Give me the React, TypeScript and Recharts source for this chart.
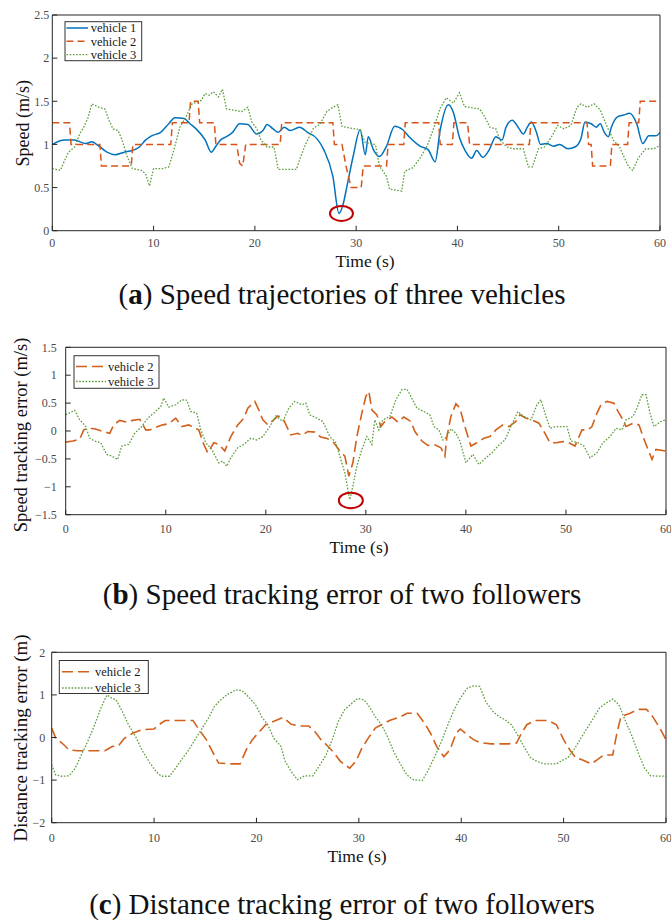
import React from 'react';
import { LineChart, Line, XAxis, YAxis, ReferenceDot } from 'recharts';

type Pt = [number, number];

const timeTicks = [0, 10, 20, 30, 40, 50, 60];
const speedTicks = [0, 0.5, 1, 1.5, 2, 2.5];
const speedErrTicks = [-1.5, -1, -0.5, 0, 0.5, 1, 1.5];
const distErrTicks = [-2, -1, 0, 1, 2];

// (a) speed of the three vehicles: [time s, speed m/s]
const speedV1: Pt[] = [
  [0, 1.0], [1.2, 1.05], [2.2, 1.05], [3.3, 1.01], [3.9, 1.03], [4.5, 0.99], [5.4, 0.91], [6.2, 0.88],
  [7.1, 0.91], [7.9, 0.93], [8.6, 0.97], [9.2, 1.05], [9.8, 1.1], [10.7, 1.14], [11.5, 1.24], [12.1, 1.31],
  [13.0, 1.3], [13.6, 1.24], [14.2, 1.18], [15.1, 1.05], [15.7, 0.91], [16.1, 0.97], [16.6, 1.05], [17.2, 1.09],
  [17.8, 1.14], [18.5, 1.24], [19.3, 1.23], [20.2, 1.12], [20.8, 1.16], [21.2, 1.23], [21.8, 1.18], [22.3, 1.14],
  [22.9, 1.2], [23.5, 1.16], [24.4, 1.2], [25.2, 1.14], [26.1, 1.07], [26.8, 0.94], [27.7, 0.63], [28.3, 0.2],
  [28.7, 0.3], [29.1, 0.52], [29.7, 0.86], [30.4, 1.17], [30.9, 0.88], [31.2, 1.09], [31.7, 0.94], [32.3, 0.86],
  [33.0, 0.98], [33.8, 1.21], [34.6, 1.17], [35.3, 1.08], [36.3, 0.98], [37.1, 0.94], [37.8, 0.8], [38.3, 1.17],
  [39.1, 1.46], [39.6, 1.37], [40.2, 1.08], [40.8, 0.92], [41.4, 0.84], [41.9, 0.93], [42.5, 0.85], [43.1, 0.93],
  [43.8, 1.09], [44.4, 1.05], [44.8, 1.2], [45.4, 1.28], [46.1, 1.18], [46.5, 1.12], [46.9, 1.2], [47.3, 1.26],
  [47.8, 1.14], [48.2, 1.0], [48.8, 1.01], [49.5, 0.98], [50.1, 1.0], [50.9, 0.95], [51.6, 0.97], [52.2, 1.07],
  [52.6, 1.26], [53.2, 1.24], [53.7, 1.2], [54.1, 1.24], [54.5, 1.14], [54.9, 1.09], [55.2, 1.2], [55.8, 1.32],
  [56.4, 1.34], [57.0, 1.36], [57.7, 1.24], [58.3, 1.01], [58.9, 1.1], [59.6, 1.1], [60, 1.14],
];
const speedV2: Pt[] = [
  [0, 1.25], [1.7, 1.25], [1.85, 1.0], [4.7, 1.0], [4.85, 0.75], [7.8, 0.75], [7.95, 1.0], [11.7, 1.0],
  [11.85, 1.25], [13.5, 1.25], [13.65, 1.5], [14.4, 1.5], [14.55, 1.25], [16.0, 1.25], [16.15, 1.0], [18.2, 1.0],
  [18.5, 0.78], [18.8, 0.75], [19.1, 1.0], [22.5, 1.0], [22.65, 1.25], [27.7, 1.25], [27.85, 1.0], [28.6, 1.0],
  [29.0, 0.75], [29.5, 0.5], [30.5, 0.5], [30.7, 0.75], [33.0, 0.75], [33.15, 1.0], [34.7, 1.0], [34.85, 1.25],
  [38.15, 1.25], [38.3, 1.0], [39.5, 1.0], [39.65, 1.25], [41.0, 1.25], [41.2, 1.0], [47.1, 1.0], [47.25, 1.25],
  [52.8, 1.25], [52.95, 1.0], [53.2, 1.0], [53.35, 0.75], [55.1, 0.75], [55.25, 1.0], [56.8, 1.0], [56.95, 1.25],
  [57.9, 1.25], [58.05, 1.5], [60, 1.5],
];
const speedV3: Pt[] = [
  [0, 0.72], [0.8, 0.7], [1.2, 0.81], [1.6, 0.91], [2.2, 0.97], [2.7, 1.12], [3.1, 1.2], [3.5, 1.3],
  [3.9, 1.47], [4.6, 1.43], [5.2, 1.41], [5.6, 1.28], [6.0, 1.18], [6.5, 1.16], [6.9, 1.05], [7.3, 0.89],
  [7.9, 0.72], [8.8, 0.7], [9.2, 0.66], [9.6, 0.52], [10.0, 0.72], [10.9, 0.72], [11.5, 0.74], [11.9, 0.89],
  [12.6, 1.2], [13.2, 1.32], [13.8, 1.47], [14.7, 1.51], [15.1, 1.59], [15.5, 1.57], [15.9, 1.61], [16.4, 1.55],
  [16.8, 1.64], [17.2, 1.41], [17.8, 1.4], [18.7, 1.38], [19.3, 1.43], [19.7, 1.26], [20.2, 1.18], [20.6, 1.05],
  [21.2, 0.97], [21.9, 0.97], [22.3, 0.71], [24.1, 0.71], [24.5, 0.85], [25.0, 1.0], [25.8, 1.19], [26.4, 1.23],
  [27.1, 1.38], [27.7, 1.43], [28.2, 1.46], [28.6, 1.21], [29.4, 1.19], [30.4, 1.17], [30.9, 1.02], [31.9, 1.0],
  [32.3, 0.75], [33.0, 0.63], [33.3, 0.48], [34.5, 0.46], [34.8, 0.69], [35.6, 0.73], [36.3, 0.84], [37.0, 0.98],
  [37.6, 1.17], [38.3, 1.42], [38.9, 1.54], [39.6, 1.48], [40.2, 1.6], [40.7, 1.44], [42.2, 1.41], [42.7, 1.32],
  [43.2, 1.2], [43.8, 1.18], [44.2, 1.05], [44.9, 0.97], [45.5, 0.95], [46.5, 0.95], [47.0, 0.74], [47.4, 0.74],
  [48.0, 0.95], [48.6, 0.97], [49.3, 1.09], [49.9, 1.22], [50.5, 1.18], [51.2, 1.22], [51.8, 1.43], [52.2, 1.47],
  [52.8, 1.43], [53.5, 1.47], [54.1, 1.4], [54.8, 1.2], [55.4, 1.05], [56.0, 0.97], [56.9, 0.74], [57.3, 0.7],
  [57.9, 0.85], [58.6, 0.95], [59.4, 0.95], [60, 0.99],
];

// (b) speed tracking error of the followers: [time s, error m/s]
const speedErrV2: Pt[] = [
  [0, -0.2], [0.7, -0.18], [1.4, -0.15], [1.8, 0.02], [2.2, 0.05], [2.9, 0.04], [3.7, -0.01], [4.4, -0.04],
  [4.8, 0.11], [5.4, 0.19], [6.1, 0.16], [6.7, 0.19], [7.4, 0.21], [8.0, 0.02], [8.4, 0.02], [9.1, 0.07],
  [9.7, 0.11], [10.3, 0.13], [11.0, 0.23], [11.6, 0.08], [12.3, 0.11], [12.9, 0.05], [13.3, 0.02], [13.8, -0.24],
  [14.2, -0.39], [14.8, -0.21], [15.3, -0.24], [15.9, -0.36], [16.5, -0.1], [17.2, 0.11], [17.8, 0.23], [18.2, 0.41],
  [18.9, 0.53], [19.3, 0.38], [19.7, 0.2], [20.2, 0.11], [20.8, 0.2], [21.2, 0.27], [21.7, 0.23], [22.1, 0.08],
  [22.5, -0.07], [23.2, -0.04], [23.6, -0.08], [24.2, -0.01], [24.9, -0.02], [25.5, -0.11], [26.2, -0.14], [26.8, -0.21],
  [27.4, -0.36], [27.9, -0.45], [28.3, -0.81], [28.7, -0.57], [29.1, -0.1], [29.6, 0.32], [30.0, 0.62], [30.3, 0.71],
  [30.6, 0.38], [31.1, 0.29], [31.5, 0.08], [31.9, 0.17], [32.6, 0.25], [33.2, 0.16], [33.8, 0.25], [34.5, 0.17],
  [34.9, -0.01], [35.6, -0.18], [36.2, -0.26], [36.8, -0.24], [37.5, -0.3], [37.9, -0.45], [38.1, -0.1], [38.5, 0.26],
  [39.0, 0.49], [39.4, 0.41], [39.8, 0.14], [40.3, -0.16], [40.5, -0.27], [41.1, -0.21], [41.8, -0.13], [42.4, -0.1],
  [43.0, 0.02], [43.7, 0.11], [44.3, 0.08], [45.0, 0.17], [45.4, 0.29], [46.0, 0.23], [46.6, 0.2], [47.3, 0.14],
  [47.9, -0.04], [48.4, -0.21], [49.0, -0.21], [49.7, -0.19], [50.3, -0.21], [50.9, -0.27], [51.6, 0.02], [52.2, 0.02],
  [52.6, 0.08], [53.1, 0.32], [53.5, 0.47], [54.1, 0.53], [54.8, 0.5], [55.2, 0.35], [55.6, 0.23], [56.0, 0.08],
  [56.7, 0.14], [57.3, 0.11], [57.7, -0.1], [58.2, -0.33], [58.6, -0.51], [59.0, -0.33], [60, -0.36],
];
const speedErrV3: Pt[] = [
  [0, 0.29], [0.9, 0.37], [1.4, 0.2], [2.0, 0.08], [2.4, -0.13], [2.9, -0.18], [3.5, -0.21], [4.1, -0.42],
  [4.6, -0.45], [5.2, -0.51], [5.6, -0.27], [6.3, -0.24], [6.9, -0.04], [7.6, 0.08], [8.2, 0.23], [8.8, 0.32],
  [9.5, 0.44], [9.8, 0.59], [10.3, 0.43], [11.0, 0.47], [11.6, 0.56], [12.1, 0.55], [12.5, 0.35], [13.1, 0.32],
  [13.5, 0.02], [14.0, -0.21], [14.6, -0.33], [15.3, -0.57], [15.7, -0.54], [16.1, -0.63], [16.5, -0.48], [17.2, -0.3],
  [17.8, -0.24], [18.5, -0.13], [19.1, -0.16], [19.7, -0.1], [20.4, 0.08], [21.0, 0.27], [21.7, 0.17], [22.3, 0.41],
  [22.9, 0.53], [23.6, 0.47], [24.0, 0.5], [24.4, 0.29], [25.1, 0.23], [25.7, 0.17], [26.4, -0.1], [27.0, -0.21],
  [27.4, -0.45], [27.9, -0.75], [28.2, -1.05], [28.4, -1.23], [28.7, -0.99], [29.1, -0.63], [29.6, -0.33], [30.1, -0.1],
  [30.6, -0.24], [30.9, 0.2], [31.3, 0.02], [31.7, 0.2], [32.4, 0.26], [33.0, 0.56], [33.6, 0.74], [34.1, 0.75],
  [34.5, 0.62], [35.1, 0.41], [35.8, 0.35], [36.4, 0.29], [36.8, 0.08], [37.3, 0.02], [37.7, -0.16], [38.1, -0.1],
  [38.5, 0.04], [39.0, -0.04], [39.4, -0.18], [40.0, -0.57], [40.7, -0.42], [41.3, -0.6], [42.0, -0.48], [42.6, -0.39],
  [43.2, -0.27], [43.9, -0.16], [44.5, 0.08], [45.2, 0.35], [45.8, 0.26], [46.5, 0.2], [47.1, 0.47], [47.5, 0.56],
  [47.9, 0.32], [48.4, 0.05], [49.0, 0.08], [49.7, 0.08], [50.1, 0.08], [50.5, -0.18], [51.2, -0.21], [51.8, -0.27],
  [52.4, -0.48], [53.1, -0.39], [53.7, -0.21], [54.4, -0.1], [55.0, 0.05], [55.6, 0.02], [56.0, 0.2], [56.7, 0.26],
  [57.1, 0.41], [57.6, 0.65], [58.0, 0.65], [58.4, 0.32], [58.8, 0.08], [59.5, 0.17], [60, 0.2],
];

// (c) distance tracking error of the followers: [time s, error m]
const distErrV2: Pt[] = [
  [0, 0.22], [0.4, -0.02], [1.0, -0.13], [1.7, -0.29], [2.5, -0.31], [4.2, -0.31], [5.2, -0.31], [5.9, -0.21],
  [6.5, -0.2], [7.1, -0.02], [7.9, 0.1], [8.8, 0.18], [10.0, 0.2], [10.7, 0.34], [11.1, 0.4], [12.5, 0.4],
  [13.8, 0.4], [14.4, 0.18], [15.1, -0.05], [15.7, -0.33], [16.3, -0.6], [17.4, -0.62], [18.4, -0.62], [19.0, -0.29],
  [19.6, -0.05], [20.3, 0.14], [20.9, 0.3], [21.7, 0.38], [22.6, 0.47], [23.4, 0.31], [24.2, 0.27], [25.1, 0.27],
  [25.7, 0.14], [26.3, -0.05], [27.0, -0.21], [27.6, -0.37], [28.2, -0.56], [29.1, -0.72], [29.7, -0.56], [30.3, -0.25],
  [30.9, -0.02], [31.6, 0.22], [32.2, 0.3], [33.0, 0.4], [34.1, 0.49], [34.7, 0.57], [35.7, 0.57], [36.4, 0.34],
  [37.0, 0.1], [37.6, -0.21], [38.3, -0.45], [38.9, -0.29], [39.5, 0.1], [39.9, 0.2], [40.6, 0.06], [41.2, -0.05],
  [41.8, -0.12], [42.9, -0.15], [44.5, -0.15], [45.4, -0.13], [45.8, 0.06], [46.4, 0.3], [47.2, 0.4], [48.5, 0.4],
  [49.3, 0.3], [50.0, -0.05], [50.6, -0.29], [51.2, -0.48], [51.8, -0.52], [52.7, -0.62], [53.3, -0.52], [53.9, -0.41],
  [54.8, -0.41], [55.2, 0.1], [55.6, 0.49], [56.5, 0.57], [57.3, 0.66], [58.1, 0.66], [58.7, 0.49], [59.4, 0.22],
  [60, -0.05],
];
const distErrV3: Pt[] = [
  [0, -0.64], [0.4, -0.88], [1.0, -0.91], [1.7, -0.9], [2.3, -0.72], [2.9, -0.41], [3.6, -0.05], [4.2, 0.3],
  [4.8, 0.69], [5.4, 1.0], [5.9, 0.92], [6.3, 0.88], [6.9, 0.61], [7.5, 0.3], [8.2, 0.02], [8.8, -0.29],
  [9.6, -0.6], [10.2, -0.8], [10.7, -0.91], [11.5, -0.91], [12.1, -0.72], [12.8, -0.48], [13.4, -0.29], [14.0, -0.05],
  [14.6, 0.18], [15.3, 0.45], [15.9, 0.73], [16.5, 0.88], [17.1, 1.0], [18.0, 1.12], [18.6, 1.1], [19.2, 0.96],
  [19.9, 0.77], [20.5, 0.49], [21.1, 0.3], [21.7, -0.02], [22.4, -0.21], [22.8, -0.56], [23.4, -0.8], [24.0, -0.99],
  [24.7, -0.9], [25.5, -0.9], [26.1, -0.68], [26.8, -0.41], [27.4, -0.05], [28.0, 0.38], [28.6, 0.65], [29.3, 0.8],
  [29.9, 0.92], [30.5, 0.88], [30.9, 0.77], [31.6, 0.49], [32.2, 0.3], [32.8, 0.02], [33.4, -0.33], [34.1, -0.64],
  [34.7, -0.88], [35.3, -0.99], [36.2, -1.01], [36.8, -0.76], [37.4, -0.45], [38.0, -0.13], [38.7, 0.3], [39.3, 0.65],
  [39.9, 0.92], [40.6, 1.16], [41.2, 1.21], [41.8, 1.2], [42.4, 0.84], [43.1, 0.61], [43.7, 0.49], [44.3, 0.41],
  [44.9, 0.3], [45.6, 0.02], [46.2, -0.25], [46.8, -0.48], [47.4, -0.56], [48.1, -0.62], [49.3, -0.62], [50.0, -0.52],
  [50.4, -0.48], [51.0, -0.29], [51.6, -0.05], [52.3, 0.22], [52.9, 0.45], [53.5, 0.69], [54.1, 0.8], [54.8, 0.9],
  [55.4, 0.77], [56.0, 0.41], [56.7, 0.02], [57.3, -0.37], [57.9, -0.72], [58.5, -0.9], [60, -0.91],
];

const seriesNames = ['vehicle 1', 'vehicle 2', 'vehicle 3'];

const SERIF = "'Liberation Serif', 'Times New Roman', serif";
const FRAME = '#262626';
const TICK_TXT = '#4a4a4a';
const BLUE = '#0072BD';
const ORANGE_A = '#D95319';
const ORANGE = '#D2601A';
const GREEN = '#5E9E3C';
const MARK = '#C00000';

const toRows = (pts: Pt[]) => pts.map(([t, v]) => ({ t, v }));
const fmt = (v: number) => String(v).replace('-', '\u2212');

type SeriesDef = {
  name: string;
  data: Pt[];
  color: string;
  dash?: string;
  width: number;
  curve: 'linear' | 'monotone';
};

type PanelProps = {
  top: number;
  height: number;
  plot: { left: number; right: number; top: number; bottom: number };
  yDomain: [number, number];
  yTicks: number[];
  yGap: number;
  xLabelDist: number;
  series: SeriesDef[];
  marker: { t: number; v: number; rx: number; ry: number };
};

function Panel({ top, height, plot, yDomain, yTicks, yGap, xLabelDist, series, marker }: PanelProps) {
  const W = 671;
  const margin = {
    left: plot.left - 1,
    right: W - plot.right - 1,
    top: plot.top - top - 1,
    bottom: top + height - plot.bottom - 1,
  };
  const tickStyle = { fontSize: 12, fill: TICK_TXT, fontFamily: SERIF };
  const line = { stroke: FRAME, strokeWidth: 1 };
  const EllipseShape = (p: any) => (
    <ellipse cx={p.cx} cy={p.cy} rx={marker.rx} ry={marker.ry} fill="none" stroke={MARK} strokeWidth={2} />
  );
  return (
    <div style={{ position: 'absolute', left: 0, top }}>
      <LineChart width={W} height={height} margin={margin}>
        <XAxis
          xAxisId="b" dataKey="t" type="number" domain={[0, 60]} ticks={timeTicks} interval={0}
          height={1} tickSize={-5} tickMargin={xLabelDist + 0.4} tick={tickStyle}
          axisLine={line} tickLine={line} allowDataOverflow
        />
        <XAxis
          xAxisId="t" orientation="top" type="number" domain={[0, 60]} ticks={timeTicks} interval={0}
          height={1} tickSize={-5} tick={false} axisLine={line} tickLine={line} allowDataOverflow
        />
        <YAxis
          yAxisId="l" type="number" domain={yDomain} ticks={yTicks} interval={0} width={1}
          tickSize={-5} tickMargin={5 + yGap} tickFormatter={fmt} tick={tickStyle}
          axisLine={line} tickLine={line} allowDataOverflow
        />
        <YAxis
          yAxisId="r" orientation="right" type="number" domain={yDomain} ticks={yTicks} interval={0} width={1}
          tickSize={-5} tick={false} axisLine={line} tickLine={line} allowDataOverflow
        />
        {series.map((s) => (
          <Line
            key={s.name}
            xAxisId="b"
            yAxisId="l"
            data={toRows(s.data)}
            dataKey="v"
            name={s.name}
            type={s.curve}
            stroke={s.color}
            strokeWidth={s.width}
            strokeDasharray={s.dash}
            dot={false}
            activeDot={false}
            isAnimationActive={false}
          />
        ))}
        <ReferenceDot
          xAxisId="b" yAxisId="l" x={marker.t} y={marker.v} r={8}
          shape={EllipseShape} ifOverflow="visible"
        />
      </LineChart>
    </div>
  );
}

type LegendRow = { label: string; color: string; dash?: string; width: number; cy: number };

function LegendBox({ x, y, w, h, sx1, sx2, tx, rows }: {
  x: number; y: number; w: number; h: number; sx1: number; sx2: number; tx: number; rows: LegendRow[];
}) {
  return (
    <g>
      <rect x={x} y={y} width={w} height={h} fill="#ffffff" stroke="#333333" strokeWidth={1} />
      {rows.map((r) => (
        <g key={r.label}>
          <line x1={sx1} x2={sx2} y1={r.cy} y2={r.cy} stroke={r.color} strokeWidth={r.width} strokeDasharray={r.dash} />
          <text x={tx} y={r.cy + 4.2} fontFamily={SERIF} fontSize={12.5} fill="#1a1a1a" style={{ whiteSpace: 'pre' }}>
            {r.label}
          </text>
        </g>
      ))}
    </g>
  );
}

export default function App() {
  const seriesA: SeriesDef[] = [
    { name: seriesNames[0], data: speedV1, color: BLUE, width: 1.5, curve: 'monotone' },
    { name: seriesNames[1], data: speedV2, color: ORANGE_A, dash: '7 4', width: 1.5, curve: 'linear' },
    { name: seriesNames[2], data: speedV3, color: GREEN, dash: '1.6 1.6', width: 1.3, curve: 'linear' },
  ];
  const seriesB: SeriesDef[] = [
    { name: seriesNames[1], data: speedErrV2, color: ORANGE, dash: '11 5', width: 1.6, curve: 'linear' },
    { name: seriesNames[2], data: speedErrV3, color: GREEN, dash: '1.6 1.6', width: 1.3, curve: 'linear' },
  ];
  const seriesC: SeriesDef[] = [
    { name: seriesNames[1], data: distErrV2, color: ORANGE, dash: '11 5', width: 1.6, curve: 'linear' },
    { name: seriesNames[2], data: distErrV3, color: GREEN, dash: '1.6 1.6', width: 1.3, curve: 'linear' },
  ];

  return (
    <div style={{ position: 'absolute', left: 0, top: 0, width: 671, height: 920, background: '#ffffff' }}>
      <Panel
        top={0} height={250}
        plot={{ left: 52.3, right: 660, top: 15, bottom: 230.7 }}
        yDomain={[0, 2.5]} yTicks={speedTicks} yGap={3} xLabelDist={12.6}
        series={seriesA} marker={{ t: 28.55, v: 0.2, rx: 11.5, ry: 7.5 }}
      />
      <Panel
        top={330} height={230}
        plot={{ left: 65.7, right: 666, top: 347.3, bottom: 514.7 }}
        yDomain={[-1.5, 1.5]} yTicks={speedErrTicks} yGap={9} xLabelDist={14.6}
        series={seriesB} marker={{ t: 28.5, v: -1.245, rx: 12, ry: 7.8 }}
      />
      <Panel
        top={630} height={230}
        plot={{ left: 51.7, right: 666, top: 652.3, bottom: 822.7 }}
        yDomain={[-2, 2]} yTicks={distErrTicks} yGap={6.5} xLabelDist={15.3}
        series={seriesC} marker={{ t: -100, v: -100, rx: 0, ry: 0 }}
      />
      <svg width={671} height={920} style={{ position: 'absolute', left: 0, top: 0, pointerEvents: 'none' }}>
        <LegendBox
          x={65} y={21.7} w={76.7} h={39} sx1={66.5} sx2={88} tx={90.7}
          rows={[
            { label: seriesNames[0], color: BLUE, width: 1.5, cy: 28 },
            { label: seriesNames[1], color: ORANGE_A, dash: '7 4', width: 1.5, cy: 41.3 },
            { label: seriesNames[2], color: GREEN, dash: '1.6 1.6', width: 1.3, cy: 54.6 },
          ]}
        />
        <LegendBox
          x={74} y={355.7} w={85} h={32.6} sx1={76} sx2={106} tx={108}
          rows={[
            { label: seriesNames[1], color: ORANGE, dash: '11 5', width: 1.6, cy: 366.5 },
            { label: seriesNames[2], color: GREEN, dash: '1.6 1.6', width: 1.3, cy: 381.5 },
          ]}
        />
        <LegendBox
          x={59.3} y={660.5} w={89} h={33} sx1={62} sx2={93} tx={95}
          rows={[
            { label: seriesNames[1], color: ORANGE, dash: '11 5', width: 1.6, cy: 671.7 },
            { label: seriesNames[2], color: GREEN, dash: '1.6 1.6', width: 1.3, cy: 688 },
          ]}
        />

        <g fontFamily={SERIF} fill="#111111">
          <text x={365} y={267} fontSize={17.5} textAnchor="middle">Time (s)</text>
          <text x={359} y={553} fontSize={17.5} textAnchor="middle">Time (s)</text>
          <text x={357} y={862} fontSize={17.5} textAnchor="middle">Time (s)</text>

          <text transform="translate(29.3,123.3) rotate(-90)" fontSize={18} textAnchor="middle">Speed (m/s)</text>
          <text transform="translate(27.3,435) rotate(-90)" fontSize={18.5} textAnchor="middle">Speed tracking error (m/s)</text>
          <text transform="translate(26.7,738) rotate(-90)" fontSize={19} textAnchor="middle">Distance tracking error (m)</text>

          <text x={342} y={304} fontSize={29} textAnchor="middle">
            (<tspan fontWeight="bold">a</tspan>) Speed trajectories of three vehicles
          </text>
          <text x={342} y={604} fontSize={29} textAnchor="middle">
            (<tspan fontWeight="bold">b</tspan>) Speed tracking error of two followers
          </text>
          <text x={342} y={914} fontSize={29} textAnchor="middle">
            (<tspan fontWeight="bold">c</tspan>) Distance tracking error of two followers
          </text>
        </g>
      </svg>
    </div>
  );
}
